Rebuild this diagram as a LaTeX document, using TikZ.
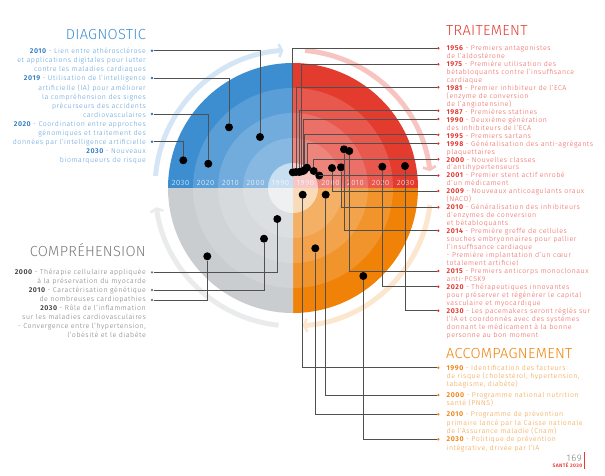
\documentclass[tikz,border=0pt]{standalone}
\usepackage{fontspec}
\setmainfont{Fira Sans Light}[BoldFont={Fira Sans SemiBold}, LetterSpace=8]
\newfontfamily\titlefont{Fira Sans Light}[LetterSpace=2]
\usepackage{tikz}
\usetikzlibrary{positioning, calc, arrows.meta}
\definecolor{diagblue}{HTML}{3D8ED0}
\definecolor{diagtext}{HTML}{5C9DD8}
\definecolor{diagdark}{HTML}{2A78C2}
\definecolor{traitred}{HTML}{E43B2F}
\definecolor{traittext}{HTML}{EC5D55}
\definecolor{traitdark}{HTML}{E32B22}
\definecolor{accorange}{HTML}{F08208}
\definecolor{acctext}{HTML}{F29C3C}
\definecolor{accdark}{HTML}{EE7F0B}
\definecolor{compgray}{HTML}{C9CDCF}
\definecolor{comptext}{HTML}{7A7A7A}
\definecolor{compdark}{HTML}{3C3C3C}
\definecolor{linkgray}{HTML}{505050}
\colorlet{arcblue}{diagblue!22}
\colorlet{arcred}{traitred!30}
\colorlet{arcorange}{accorange!20}
\colorlet{arcgray}{compgray!40}
\newcommand\yearb[2]{{\bfseries\color{#1}#2}}

\begin{document}
\begin{tikzpicture}[
    x=1pt, y=-1pt,
    bigdot/.style={circle, fill=black, inner sep=0pt, minimum size=8pt},
    tipdot/.style={circle, fill=#1, inner sep=0pt, minimum size=2.6pt},
    link/.style={draw=linkgray, line width=0.7pt},
    cyclearc/.style={line width=5pt,
        -{Straight Barb[length=3pt, width=13pt, line width=2.6pt]}},
    yearlbl/.style={text=white, inner sep=0pt,
        font=\fontsize{7.6}{8}\selectfont},
    headtitle/.style={inner sep=0pt,
        font=\titlefont\fontsize{14.6}{15}\selectfont},
    leftblock/.style={align=right, anchor=north east, inner sep=0pt},
    rightblock/.style={align=left, anchor=north west, inner sep=0pt},
  ]
  \useasboundingbox (0,0) rectangle (605,475);
  \coordinate (c) at (293,188);

  % outer arrows
  \draw[cyclearc, arcblue] (c) ++(-175:138) arc[start angle=-175, end angle=-94, radius=138];
  \draw[cyclearc, arcred] (c) ++(-85:138) arc[start angle=-85, end angle=-7, radius=138];
  \draw[cyclearc, arcorange] (c) ++(7:138) arc[start angle=7, end angle=86, radius=138];
  \draw[cyclearc, arcgray] (c) ++(96:138) arc[start angle=96, end angle=172, radius=138];

  % quarters and rings
  \foreach \a/\col in {180/diagblue, 270/traitred, 0/accorange, 90/compgray}
    \fill[\col] (c) -- ++(\a:125) arc[start angle=\a, end angle=\a+90, radius=125] -- cycle;
  \foreach \r/\o in {100/0.15, 75/0.15, 50/0.15, 25/0.55}
    \fill[white, opacity=\o] (c) circle[radius=\r];

  \foreach \yy [count=\k] in {1990,2000,2010,2020,2030} {
      \node[yearlbl] (ylw\k) at ({293-25*\k+12.5},183) {\yy};
      \node[yearlbl] (yle\k) at ({293+25*\k-12.5},183) {\yy};
    }

  % diagnostic
  \foreach \n/\ty/\px/\py in {1/50.7/260/137, 2/78/229/127.3, 3/114/208.3/163.7, 4/141.7/183.3/160.3} {
      \node[tipdot=diagdark] (dtip\n) at (152,\ty) {};
      \node[bigdot] (ddot\n) at (\px,\py) {};
      \draw[link] (dtip\n) -| (ddot\n);
    }

  % comprehension
  \foreach \n/\ty/\px/\py in {1/272.3/277.3/219, 2/290/264/238.7, 3/300/207.3/256.3} {
      \node[tipdot=comptext] (ctip\n) at (152,\ty) {};
      \node[bigdot] (cdot\n) at (\px,\py) {};
      \draw[link] (ctip\n) -| (cdot\n);
    }

  % traitement
  \foreach \n/\ty/\px/\py in {1/48.3/292.8/172.3, 2/64.3/301/171.5, 3/87.3/296/172,
      4/110.7/299.3/172, 5/119/303.3/171, 6/134.8/304.5/170, 7/143.5/307/167.7,
      8/159.3/313.7/171, 9/175.5/319.3/175.5, 10/191/332/168, 11/207.3/341/167.3,
      12/230.7/344/149.3, 13/271/349.3/151, 14/286.7/382.3/166.7, 15/310.7/405/166} {
      \node[tipdot=traitdark] (ttip\n) at (438.3,\ty) {};
      \node[bigdot] (tdot\n) at (\px,\py) {};
      \draw[link] (tdot\n) |- (ttip\n);
    }

  % accompagnement
  \foreach \n/\ty/\px/\py in {1/367.7/302.7/194.7, 2/395/325.7/194.7, 3/414.3/315.3/248.3, 4/439.3/363.3/276} {
      \node[tipdot=accdark] (atip\n) at (438.3,\ty) {};
      \node[bigdot] (adot\n) at (\px,\py) {};
      \draw[link] (adot\n) |- (atip\n);
    }

  % titles
  \node[headtitle, text=diagblue, anchor=base east] (diagtitle) at (146,39) {DIAGNOSTIC};
  \node[headtitle, text=comptext, anchor=base east] (comptitle) at (146,256.7) {COMPRÉHENSION};
  \node[headtitle, text=traitred, anchor=base west] (traittitle) at (446,35) {TRAITEMENT};
  \node[headtitle, text=accorange, anchor=base west] (acctitle) at (446,358.3) {ACCOMPAGNEMENT};

  \node[leftblock, text=diagtext, font=\fontsize{7}{9.1}\selectfont] (diagbody) at (146,48) {%
    \yearb{diagdark}{2010} - Lien entre athérosclérose\\
    et applications digitales pour lutter\\
    contre les maladies cardiaques\\
    \yearb{diagdark}{2019} - Utilisation de l'intelligence\\
    artificielle (IA) pour améliorer\\
    la compréhension des signes\\
    précurseurs des accidents\\
    cardiovasculaires\\
    \yearb{diagdark}{2020} - Coordination entre approches\\
    génomiques et traitement des\\
    données par l'intelligence artificielle\\
    \yearb{diagdark}{2030} - Nouveaux\\
    biomarqueurs de risque};

  \node[leftblock, text=comptext, font=\fontsize{7}{9}\selectfont] (compbody) at (146,269.3) {%
    \yearb{compdark}{2000} - Thérapie cellulaire appliquée\\
    à la préservation du myocarde\\
    \yearb{compdark}{2010} - Caractérisation génétique\\
    de nombreuses cardiopathies\\
    \yearb{compdark}{2030} - Rôle de l'inflammation\\
    sur les maladies cardiovasculaires\\
    - Convergence entre l'hypertension,\\
    l'obésité et le diabète};

  \node[rightblock, text=traittext, font=\fontsize{7}{7.96}\selectfont] (traitbody) at (446.5,45.1) {%
    \yearb{traitdark}{1956} - Premiers antagonistes\\
    de l'aldostérone\\
    \yearb{traitdark}{1975} - Première utilisation des\\
    bétabloquants contre l'insuffisance\\
    cardiaque\\
    \yearb{traitdark}{1981} - Premier inhibiteur de l'ECA\\
    (enzyme de conversion\\
    de l'angiotensine)\\
    \yearb{traitdark}{1987} - Premières statines\\
    \yearb{traitdark}{1990} - Deuxième génération\\
    des inhibiteurs de l'ECA\\
    \yearb{traitdark}{1995} - Premiers sartans\\
    \yearb{traitdark}{1998} - Généralisation des anti-agrégants\\
    plaquettaires\\
    \yearb{traitdark}{2000} - Nouvelles classes\\
    d'antihypertenseurs\\
    \yearb{traitdark}{2001} - Premier stent actif enrobé\\
    d'un médicament\\
    \yearb{traitdark}{2009} - Nouveaux anticoagulants oraux\\
    (NACO)\\
    \yearb{traitdark}{2010} - Généralisation des inhibiteurs\\
    d'enzymes de conversion\\
    et bétabloquants\\
    \yearb{traitdark}{2014} - Première greffe de cellules\\
    souches embryonnaires pour pallier\\
    l'insuffisance cardiaque\\
    - Première implantation d'un cœur\\
    totalement artificiel\\
    \yearb{traitdark}{2015} - Premiers anticorps monoclonaux\\
    anti-PCSK9\\
    \yearb{traitdark}{2020} - Thérapeutiques innovantes\\
    pour préserver et régénérer le capital\\
    vasculaire et myocardique\\
    \yearb{traitdark}{2030} - Les pacemakers seront réglés sur\\
    l'IA et coordonnés avec des systèmes\\
    donnant le médicament à la bonne\\
    personne au bon moment};

  \node[rightblock, text=acctext, font=\fontsize{7}{8.4}\selectfont] (acc1) at (446.5,364.7) {%
    \yearb{accdark}{1990} - Identification des facteurs\\
    de risque (cholestérol, hypertension,\\
    tabagisme, diabète)};
  \node[rightblock, text=acctext, font=\fontsize{7}{8.4}\selectfont] (acc2) at (446.5,392) {%
    \yearb{accdark}{2000} - Programme national nutrition\\
    santé (PNNS)};
  \node[rightblock, text=acctext, font=\fontsize{7}{8.4}\selectfont] (acc3) at (446.5,411.3) {%
    \yearb{accdark}{2010} - Programme de prévention\\
    primaire lancé par la Caisse nationale\\
    de l'Assurance maladie (Cnam)};
  \node[rightblock, text=acctext, font=\fontsize{7}{8.4}\selectfont] (acc4) at (446.5,436.3) {%
    \yearb{accdark}{2030} - Politique de prévention\\
    intégrative, drivée par l'IA};

  % folio
  \node[anchor=base east, inner sep=0pt, text=comptext, font=\fontsize{9.5}{10}\selectfont] (pagenum) at (582,461) {169};
  \node[anchor=base east, inner sep=0pt, text=traitred, font=\bfseries\fontsize{5}{5}\selectfont] (pagetag) at (582.5,467.5) {SANTÉ 2030};
  \draw[traitred, line width=0.9pt] (584.5,452) -- (584.5,469);
\end{tikzpicture}
\end{document}
